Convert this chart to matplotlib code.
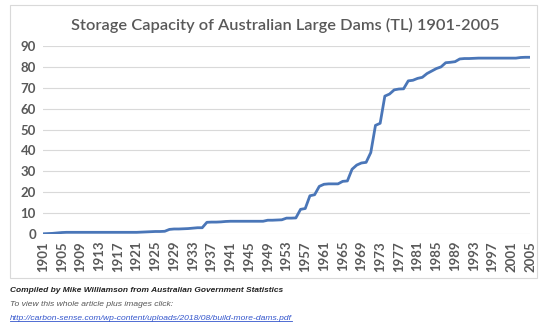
import matplotlib.pyplot as plt
from matplotlib.patches import Rectangle

# storage capacity (TL), one value per year 1901-2005
years = list(range(1901, 2006))
capacity = [
    0.1, 0.2, 0.3, 0.5, 0.7,                     # 1901-1905
    0.8, 0.8, 0.8, 0.8, 0.8, 0.8, 0.8, 0.8,      # 1906-1913
    0.8, 0.8, 0.8, 0.8, 0.8, 0.8, 0.8, 0.8,      # 1914-1921
    0.9, 1.0, 1.1, 1.2, 1.2, 1.3,                # 1922-1927
    2.2, 2.4, 2.4, 2.5, 2.6, 2.8, 3.0, 3.0,      # 1928-1935
    5.6, 5.7, 5.7, 5.8, 6.0, 6.1, 6.1, 6.1,      # 1936-1943
    6.1, 6.1, 6.1, 6.1, 6.1,                     # 1944-1948
    6.6, 6.6, 6.7, 6.8, 7.6, 7.6, 7.7,           # 1949-1955
    11.8, 12.2, 18.3, 18.8, 22.8, 23.8,          # 1956-1961
    24.0, 24.0, 24.0, 25.2, 25.4,                # 1962-1966
    31.0, 33.0, 34.0, 34.3, 39.0, 52.0, 53.0,    # 1967-1973
    66.0, 67.0, 69.0, 69.4, 69.5,                # 1974-1978
    73.3, 73.6, 74.5, 75.0, 76.8, 78.0, 79.2,    # 1979-1985
    80.0, 82.0, 82.2, 82.5, 83.8,                # 1986-1990
    84.0, 84.0, 84.1, 84.2, 84.2, 84.2, 84.2,    # 1991-1997
    84.2, 84.2, 84.2, 84.2, 84.2,                # 1998-2002
    84.5, 84.6, 84.6,                            # 2003-2005
]
tick_years = years[::4]
y_ticks = list(range(0, 100, 10))

TITLE = "Storage Capacity of Australian Large Dams (TL) 1901-2005"
CREDIT = "Compiled by Mike Williamson from Australian Government Statistics"
VIEW = "To view this whole article plus images click:"
URL = "http://carbon-sense.com/wp-content/uploads/2018/08/build-more-dams.pdf"

W, H = 550, 330
fig = plt.figure(figsize=(W / 100, H / 100), dpi=100)
fig.patch.set_facecolor("white")

# chart frame (Excel style box)
fig.patches.append(Rectangle((10 / W, 1 - 278 / H), 527 / W, 273 / H,
                             transform=fig.transFigure, fill=False,
                             edgecolor="#d9d9d9", linewidth=0.8))

ax = fig.add_axes([43 / W, 1 - 234 / H, 487 / W, 188 / H])
ax.plot(years, capacity, color="#4a76b8", linewidth=2.0, solid_joinstyle="round")

ax.set_xlim(1901, 2005)
ax.set_ylim(0, 90)
ax.set_yticks(y_ticks)
ax.set_xticks(tick_years)
ax.set_xticklabels([str(y) for y in tick_years], rotation=90)
ax.grid(axis="y", color="#d9d9d9", linewidth=0.8)
ax.set_axisbelow(True)
for s in ax.spines.values():
    s.set_visible(False)
ax.tick_params(length=0, colors="#595959", labelsize=9.5, pad=5)
for lab in ax.get_xticklabels() + ax.get_yticklabels():
    lab.set_fontfamily("Lato")
    lab.set_fontweight("bold")

fig.text(0.518, 1 - 25 / H, TITLE, ha="center", va="center",
         fontsize=11.8, color="#595959", family="Lato", weight="semibold")

fig.text(10 / W, 1 - 291 / H, CREDIT, ha="left", va="center", fontsize=6.0,
         family="Liberation Sans", weight="bold", style="italic", color="#222222")
fig.text(10 / W, 1 - 305 / H, VIEW, ha="left", va="center", fontsize=6.1,
         family="Liberation Sans", style="italic", color="#555555")
url = fig.text(10 / W, 1 - 318 / H, URL, ha="left", va="center", fontsize=6.1,
               family="Liberation Sans", style="italic", color="#3355cc")
url.set_url(URL)
fig.canvas.draw()
bb = url.get_window_extent()
fig.add_artist(plt.Line2D([bb.x0 / W, bb.x1 / W], [(bb.y0 + 0.5) / H] * 2,
                          transform=fig.transFigure, color="#3355cc", linewidth=0.6))

fig.savefig("out.png", dpi=100)
